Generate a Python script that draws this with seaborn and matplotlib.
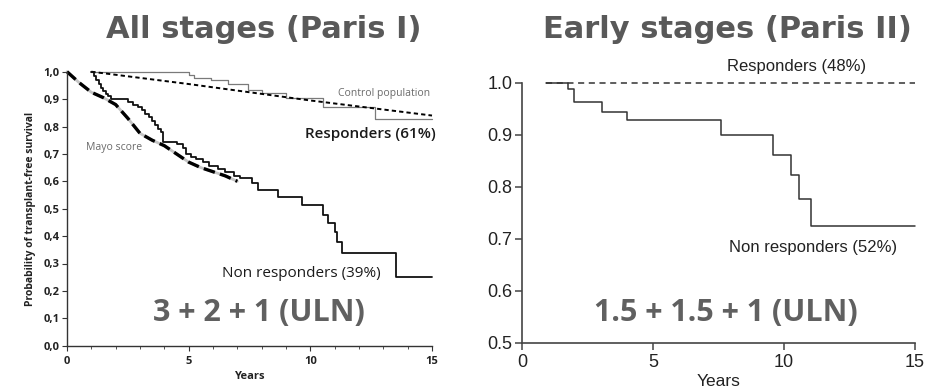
import matplotlib
matplotlib.use("Agg")
import matplotlib.pyplot as plt
from matplotlib.font_manager import FontProperties
import seaborn as sns
import pandas as pd

sns.set_theme(style="white")
plt.rcParams["font.family"] = ["DejaVu Sans"]

# ---- Paris I (all stages) ----
control_t = [1.0, 5.0, 5.2, 5.9, 6.6, 7.45, 8.0, 9.0, 10.5, 12.65, 15.0]
control_s = [1.0, 0.988, 0.978, 0.968, 0.955, 0.935, 0.921, 0.903, 0.872, 0.828, 0.828]

resp1_t = [1.0, 5.0, 10.0, 15.0]
resp1_s = [1.0, 0.955, 0.895, 0.840]

mayo_t = [0.0, 0.5, 1.0, 1.5, 2.0, 2.5, 3.0, 3.5, 4.0, 4.5, 5.0, 5.5, 6.0, 6.5, 7.0]
mayo_s = [1.0, 0.96, 0.925, 0.905, 0.88, 0.83, 0.775, 0.75, 0.73, 0.70, 0.67, 0.65, 0.635, 0.62, 0.60]

nonresp1_t = [1.0, 1.1, 1.2, 1.3, 1.4, 1.5, 1.6, 1.7, 1.8, 2.5, 2.7, 2.9, 3.1, 3.2, 3.35,
              3.5, 3.6, 3.75, 3.85, 3.95, 4.5, 4.75, 4.9, 5.1, 5.3, 5.6, 5.85, 6.2, 6.5,
              6.85, 7.1, 7.6, 7.86, 8.68, 9.64, 10.53, 10.74, 11.0, 11.1, 11.3, 13.5, 15.0]
nonresp1_s = [1.0, 0.985, 0.97, 0.955, 0.94, 0.93, 0.92, 0.91, 0.90, 0.89, 0.88, 0.87, 0.86,
              0.845, 0.835, 0.82, 0.805, 0.79, 0.78, 0.745, 0.735, 0.72, 0.70, 0.69, 0.68,
              0.67, 0.655, 0.645, 0.635, 0.62, 0.611, 0.593, 0.568, 0.544, 0.512, 0.477,
              0.447, 0.416, 0.38, 0.337, 0.252, 0.252]

left_yticks = [0.0, 0.1, 0.2, 0.3, 0.4, 0.5, 0.6, 0.7, 0.8, 0.9, 1.0]
left_yticklabels = ["0,0", "0,1", "0,2", "0,3", "0,4", "0,5", "0,6", "0,7", "0,8", "0,9", "1,0"]
xticks = [0, 5, 10, 15]

# ---- Paris II (early stages) ----
resp2_t = [0.9, 15.0]
resp2_s = [1.0, 1.0]

nonresp2_t = [0.9, 1.73, 1.98, 3.03, 4.0, 7.58, 9.58, 10.28, 10.56, 11.04, 15.0]
nonresp2_s = [1.0, 0.987, 0.962, 0.943, 0.929, 0.90, 0.861, 0.823, 0.776, 0.725, 0.725]

right_yticks = [0.5, 0.6, 0.7, 0.8, 0.9, 1.0]

W, H = 929, 391
fig = plt.figure(figsize=(W / 100, H / 100), dpi=100)
fig.patch.set_facecolor("white")

ax1 = fig.add_axes([67 / W, 1 - 345.7 / H, 365 / W, 274 / H])
ax2 = fig.add_axes([522.3 / W, 1 - 342.7 / H, 392.7 / W, 260 / H])

title_kw = dict(fontsize=22, fontweight="bold", color="#595959", family=["DejaVu Sans"],
                ha="center", va="baseline")
fig.text(264 / W, 1 - 37.5 / H, "All stages (Paris I)", **title_kw)
fig.text(727 / W, 1 - 37.5 / H, "Early stages (Paris II)", **title_kw)

# Left panel curves
df_mayo = pd.DataFrame({"t": mayo_t, "s": mayo_s})
sns.lineplot(data=df_mayo, x="t", y="s", ax=ax1, color="#c4c4c4", lw=2.0, estimator=None,
             clip_on=False)
sns.lineplot(data=df_mayo, x="t", y="s", ax=ax1, color="black", lw=2.4, estimator=None,
             linestyle=(0, (3.5, 1.6)), clip_on=False)

sns.lineplot(x=control_t, y=control_s, ax=ax1, color="#7a7a7a", lw=0.9,
             drawstyle="steps-post", estimator=None, clip_on=False)
sns.lineplot(x=resp1_t, y=resp1_s, ax=ax1, color="black", lw=1.4,
             linestyle=(0, (2.2, 1.6)), estimator=None, clip_on=False)
sns.lineplot(x=nonresp1_t, y=nonresp1_s, ax=ax1, color="#111111", lw=1.3,
             drawstyle="steps-post", estimator=None, clip_on=False)

ax1.set_xlim(0, 15)
ax1.set_ylim(0, 1.0)
for side in ["top", "right"]:
    ax1.spines[side].set_visible(False)
for side in ["left", "bottom"]:
    ax1.spines[side].set_color("#333333")
    ax1.spines[side].set_linewidth(1.0)
ax1.set_xticks(xticks)
ax1.set_xticks(range(0, 16), minor=True)
ax1.set_yticks(left_yticks)
ax1.set_yticklabels(left_yticklabels)
lab_font = ["Open Sans", "DejaVu Sans"]
for lab in ax1.get_xticklabels() + ax1.get_yticklabels():
    lab.set_fontproperties(FontProperties(family=lab_font, weight="bold", size=8))
    lab.set_color("#222222")
ax1.tick_params(axis="both", which="major", direction="out", length=3.5, width=0.8,
                color="#333333", left=True, bottom=True)
ax1.tick_params(axis="x", which="major", pad=4)
ax1.tick_params(axis="y", which="major", pad=2)
ax1.tick_params(axis="x", which="minor", direction="out", length=2, width=0.6,
                color="#333333", bottom=True)
ax1.set_xlabel("Years", fontsize=8, fontweight="bold", family=lab_font,
               color="#222222", labelpad=3)
ax1.set_ylabel("Probability of transplant-free survival", fontsize=7.5, fontweight="bold",
               family=lab_font, color="#222222", labelpad=5)

ax1.text(14.92, 0.922, "Control population", ha="right", va="center", fontsize=7.5,
         color="#6a6a6a", family=lab_font)
ax1.text(15.17, 0.773, "Responders (61%)", ha="right", va="center", fontsize=11,
         color="#1a1a1a", family=lab_font, fontweight="semibold")
ax1.text(0.78, 0.722, "Mayo score", ha="left", va="center", fontsize=7.5,
         color="#6a6a6a", family=lab_font)
ax1.text(12.9, 0.265, "Non responders (39%)", ha="right", va="center", fontsize=11,
         color="#1a1a1a", family=lab_font)
ax1.text(7.87, 0.119, "3 + 2 + 1 (ULN)", ha="center", va="center", fontsize=22,
         color="#606060", family=lab_font, fontweight="bold")

# Right panel curves
sns.lineplot(x=resp2_t, y=resp2_s, ax=ax2, color="#333333", lw=1.1,
             linestyle=(0, (4, 3)), estimator=None, clip_on=False)
sns.lineplot(x=nonresp2_t, y=nonresp2_s, ax=ax2, color="#333333", lw=1.1,
             drawstyle="steps-post", estimator=None, clip_on=False)

ax2.set_xlim(0, 15)
ax2.set_ylim(0.5, 1.0)
for side in ["top", "right"]:
    ax2.spines[side].set_visible(False)
for side in ["left", "bottom"]:
    ax2.spines[side].set_color("#444444")
    ax2.spines[side].set_linewidth(1.2)
ax2.set_xticks(xticks)
ax2.set_yticks(right_yticks)
ax2.set_yticklabels([f"{v:.1f}" for v in right_yticks])
arial = ["Liberation Sans", "DejaVu Sans"]
for lab in ax2.get_xticklabels() + ax2.get_yticklabels():
    lab.set_fontproperties(FontProperties(family=arial, size=13))
    lab.set_color("#222222")
ax2.tick_params(axis="both", which="major", direction="out", length=5, width=1.1,
                color="#444444", left=True, bottom=True)
ax2.tick_params(axis="x", which="major", pad=3)
ax2.tick_params(axis="y", which="major", pad=2)
ax2.set_xlabel("Years", fontsize=12.5, family=arial, color="#222222", labelpad=2)

ax2.text(10.48, 1.032, "Responders (48%)", ha="center", va="center", fontsize=12,
         color="#222222", family=arial, clip_on=False)
ax2.text(11.1, 0.684, "Non responders (52%)", ha="center", va="center", fontsize=12,
         color="#222222", family=arial)
ax2.text(7.79, 0.557, "1.5 + 1.5 + 1 (ULN)", ha="center", va="center", fontsize=22,
         color="#606060", family=lab_font, fontweight="bold")

for a in (ax1, ax2):
    leg = a.get_legend()
    if leg is not None:
        leg.remove()

fig.savefig("out.png", dpi=100, facecolor="white")
